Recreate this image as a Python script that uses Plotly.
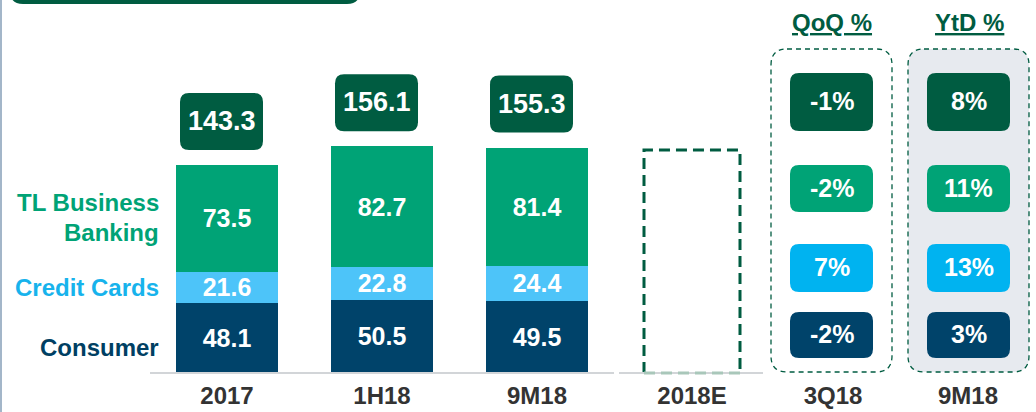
import plotly.graph_objects as go

# ---------------- data ----------------
categories = ["2017", "1H18", "9M18"]
consumer = [48.1, 50.5, 49.5]
credit_cards = [21.6, 22.8, 24.4]
business = [73.5, 82.7, 81.4]
totals = [143.3, 156.1, 155.3]
estimate_label = "2018E"
estimate_placeholder = 153.6   # empty dashed box height (no value shown)
qoq_pct = [-1, -2, 7, -2]      # Total, TL Business, Credit Cards, Consumer
ytd_pct = [8, 11, 13, 3]
qoq_label = "3Q18"
ytd_label = "9M18"
series_names = ["TL Business", "Banking", "Credit Cards", "Consumer"]

# ---------------- styling / layout constants ----------------
W, H = 1036, 412
MB = 39
PH = H - MB          # plot area height in px
X0PX, XSTEP = 227, 155
YSCALE = 1.452       # px per unit

DKGREEN = "#005C41"
GREEN = "#00A376"
CYAN_BAR = "#4DC4F9"
CYAN = "#00B3F0"
NAVY = "#00436A"
GRAYFILL = "#E7EAEF"
FONT = "Liberation Sans, Arial, sans-serif"

def px(xp):
    return xp / W

def py(yp):
    return (PH - yp) / PH

def rrect_paper(x0, x1, y0, y1, r):
    """rounded rect path in paper coords from pixel box (y0 top, y1 bottom)"""
    rx, ry = r / W, r / PH
    X0, X1 = px(x0), px(x1)
    YT, YB = py(y0), py(y1)
    return (f"M{X0+rx},{YT} L{X1-rx},{YT} Q{X1},{YT} {X1},{YT-ry} "
            f"L{X1},{YB+ry} Q{X1},{YB} {X1-rx},{YB} L{X0+rx},{YB} "
            f"Q{X0},{YB} {X0},{YB+ry} L{X0},{YT-ry} Q{X0},{YT} {X0+rx},{YT} Z")

def rrect_pixel(x0, x1, y0, y1, r):
    """rounded rect path in pixel offsets (y up) relative to anchor"""
    return (f"M{x0+r},{y1} L{x1-r},{y1} Q{x1},{y1} {x1},{y1-r} "
            f"L{x1},{y0+r} Q{x1},{y0} {x1-r},{y0} L{x0+r},{y0} "
            f"Q{x0},{y0} {x0},{y0+r} L{x0},{y1-r} Q{x0},{y1} {x0+r},{y1} Z")

xpos = list(range(len(categories)))
x_est = len(categories)
x_qoq = (833 - X0PX) / XSTEP
x_ytd = (968 - X0PX) / XSTEP
BARW = 102 / XSTEP

fig = go.Figure()
for vals, col in [(consumer, NAVY), (credit_cards, CYAN_BAR), (business, GREEN)]:
    fig.add_trace(go.Bar(
        x=xpos, y=vals, width=BARW, marker=dict(color=col, line=dict(width=0)),
        text=[f"{v:.1f}" for v in vals], textposition="inside",
        insidetextanchor="middle", textangle=0,
        textfont=dict(family=FONT, size=25, color="white", weight="bold"),
        hoverinfo="skip", showlegend=False))

shapes = []
annotations = []

# total boxes anchored on bars
for xi, t in zip(xpos, totals):
    shapes.append(dict(type="path", xref="x", yref="y", xsizemode="pixel",
                       ysizemode="pixel", xanchor=xi, yanchor=t,
                       path=rrect_pixel(-47, 36, 15, 72, 9),
                       fillcolor=DKGREEN, line=dict(width=0), layer="above"))
    annotations.append(dict(x=xi, y=t, xref="x", yref="y", xshift=-5.5, yshift=44,
                            xanchor="center", yanchor="middle",
                            text=f"{t:.1f}", showarrow=False,
                            font=dict(family=FONT, size=27, color="white", weight="bold")))

# estimate placeholder (3 dashed sides)
hw = 48 / XSTEP
shapes.append(dict(type="path", xref="x", yref="y",
                   path=f"M{x_est-hw},0 L{x_est-hw},{estimate_placeholder} "
                        f"L{x_est+hw},{estimate_placeholder} L{x_est+hw},0",
                   line=dict(color=DKGREEN, width=3, dash="11px,6px")))

# baseline
shapes.append(dict(type="line", xref="paper", yref="paper", x0=px(150), x1=px(614),
                   y0=0, y1=0, line=dict(color="#D2D5D8", width=2)))
shapes.append(dict(type="line", xref="paper", yref="paper", x0=px(619), x1=px(763),
                   y0=0, y1=0, line=dict(color="#D2D5D8", width=2)))
shapes.append(dict(type="line", xref="x", yref="paper", x0=x_est-hw, x1=x_est+hw,
                   y0=0, y1=0, line=dict(color="#A9C7BA", width=3, dash="11px,6px")))

# right panels
shapes.append(dict(type="path", xref="paper", yref="paper",
                   path=rrect_paper(771, 892, 49, 372, 16), fillcolor="rgba(0,0,0,0)",
                   line=dict(color=DKGREEN, width=1.3, dash="5px,4px")))
shapes.append(dict(type="path", xref="paper", yref="paper",
                   path=rrect_paper(908, 1029, 49, 372, 16), fillcolor=GRAYFILL,
                   line=dict(color=DKGREEN, width=1.3, dash="5px,4px"), layer="below"))

rows = [(73, 131), (165, 212), (244, 292), (312, 358)]
row_cols = [DKGREEN, GREEN, CYAN, NAVY]
for vals, (cx0, cx1) in [(qoq_pct, (790, 873)), (ytd_pct, (927, 1010))]:
    for v, (ry0, ry1), col in zip(vals, rows, row_cols):
        shapes.append(dict(type="path", xref="paper", yref="paper",
                           path=rrect_paper(cx0, cx1, ry0, ry1, 9),
                           fillcolor=col, line=dict(width=0)))
        annotations.append(dict(x=px((cx0 + cx1) / 2), y=py((ry0 + ry1) / 2 - 1),
                                xref="paper", yref="paper", text=f"{v}%",
                                showarrow=False, xanchor="center", yanchor="middle",
                                font=dict(family=FONT, size=25, color="white", weight="bold")))

for txt, xc in [("QoQ %", 832), ("YtD %", 969)]:
    annotations.append(dict(x=px(xc), y=py(22), xref="paper", yref="paper",
                            text=f"<u>{txt}</u>", showarrow=False,
                            xanchor="center", yanchor="middle",
                            font=dict(family=FONT, size=24, color=DKGREEN, weight="bold")))

# left series labels
for txt, yc, col in [(series_names[0], 202, GREEN), (series_names[1], 232, GREEN),
                     (series_names[2], 287, "#17B3EC"), (series_names[3], 347, "#003F63")]:
    annotations.append(dict(x=px(161), y=py(yc), xref="paper", yref="paper",
                            text=txt, showarrow=False, xanchor="right", yanchor="middle",
                            font=dict(family=FONT, size=24, color=col, weight="bold")))

# decorations: title box and left border
shapes.append(dict(type="path", xref="paper", yref="paper",
                   path=rrect_paper(10, 360, -30, 4, 13), fillcolor=DKGREEN,
                   line=dict(width=0)))
shapes.append(dict(type="line", xref="paper", yref="paper", x0=px(1), x1=px(1),
                   y0=py(412), y1=py(0), line=dict(color="#A3B6C9", width=2)))

fig.update_layout(
    width=W, height=H, margin=dict(l=0, r=0, t=0, b=MB),
    paper_bgcolor="white", plot_bgcolor="rgba(0,0,0,0)",
    barmode="stack", shapes=shapes, annotations=annotations,
    uniformtext=dict(minsize=25, mode="show"),
    xaxis=dict(range=[-X0PX / XSTEP, (W - X0PX) / XSTEP], showgrid=False,
               zeroline=False, showline=False,
               tickvals=xpos + [x_est, x_qoq, x_ytd],
               ticktext=categories + [estimate_label, qoq_label, ytd_label],
               ticks="", ticklabelstandoff=6,
               tickfont=dict(family=FONT, size=24, color="#333333", weight="bold")),
    yaxis=dict(range=[0, PH / YSCALE], visible=False),
)

fig.write_html("out.html", config={"displayModeBar": False},
               post_script="document.body.style.margin='0';document.body.style.overflow='hidden';")
